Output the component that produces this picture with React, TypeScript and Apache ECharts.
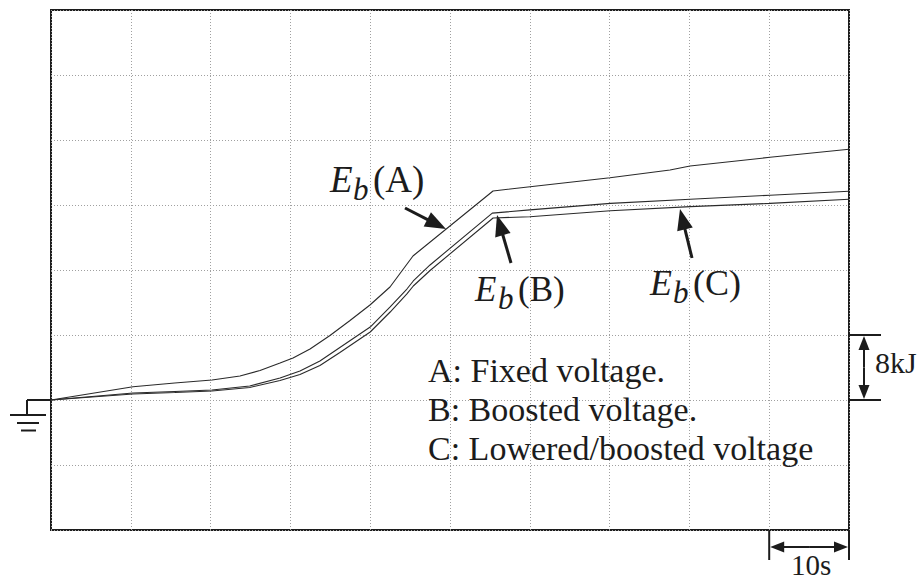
import React, { useEffect, useRef } from "react";
import * as echarts from "echarts";

// Time axis (s) and energy axis (kJ): one grid division = 10 s / 8 kJ
const X_MIN = 0;
const X_MAX = 100;
const X_STEP = 10;
const Y_MIN = -16;
const Y_MAX = 48;
const Y_STEP = 8;

// E_b(A): fixed voltage
const timeA = [0, 10.28, 15.5, 20.18, 23.68, 26.19, 28.7, 30.33, 32.46, 34.96, 37.47, 39.97, 42.48, 45.36, 55.39, 60.03, 70.05, 77.57, 80.08, 90.1, 100];
const energyA = [0, 1.64, 2.09, 2.46, 2.95, 3.63, 4.55, 5.17, 6.28, 7.94, 9.78, 11.69, 13.91, 17.72, 25.72, 26.25, 27.36, 28.31, 28.8, 29.87, 30.86];

// E_b(B): boosted voltage
const timeB = [0, 10.28, 15.5, 20.18, 24.9, 28.7, 31.2, 33.7, 36.2, 40.0, 42.5, 44.6, 45.4, 47.5, 55.3, 60.0, 70.1, 80.1, 90.1, 100];
const energyB = [0, 0.86, 1.05, 1.23, 1.72, 2.71, 3.57, 4.8, 6.46, 8.98, 11.45, 13.66, 14.65, 16.62, 23.0, 23.4, 24.2, 24.7, 25.2, 25.7];

// E_b(C): lowered/boosted voltage
const timeC = [0, 10.28, 15.5, 20.18, 24.9, 28.7, 31.2, 33.7, 36.2, 40.0, 42.5, 44.6, 45.4, 47.5, 55.4, 60.0, 70.1, 80.1, 90.1, 100];
const energyC = [0, 0.74, 0.92, 1.11, 1.54, 2.4, 3.14, 4.25, 5.85, 8.37, 10.83, 13.05, 14.03, 15.94, 22.4, 22.56, 23.3, 23.8, 24.2, 24.7];

// Legend lines written inside the plot
const legendLines = ["A: Fixed voltage.", "B: Boosted voltage.", "C: Lowered/boosted voltage"];

const SERIF = "'Liberation Serif', 'Times New Roman', serif";
const INK = "#1c1c1c";

function pairs(xs: number[], ys: number[]) {
  return xs.map((x, i) => [x, ys[i]]);
}

function text(str: string, x: number, baseline: number, size: number, italic = false, align = "left") {
  return {
    type: "text",
    x,
    y: baseline - size * 0.34,
    silent: true,
    style: {
      text: str,
      fontFamily: SERIF,
      fontSize: size,
      fontStyle: italic ? "italic" : "normal",
      font: `${italic ? "italic " : ""}${size}px ${SERIF}`,
      fill: INK,
      align,
      textAlign: align,
      verticalAlign: "middle",
      textVerticalAlign: "middle",
    },
  };
}

// Arrow stem plus a filled head whose tip sits at (tx, ty)
function arrow(sx: number, sy: number, tx: number, ty: number, headLen: number, headHalf: number, width: number) {
  const dx = tx - sx;
  const dy = ty - sy;
  const len = Math.hypot(dx, dy);
  const ux = dx / len;
  const uy = dy / len;
  const bx = tx - ux * headLen;
  const by = ty - uy * headLen;
  const nx = -uy;
  const ny = ux;
  return [
    {
      type: "line",
      silent: true,
      shape: { x1: sx, y1: sy, x2: bx + ux * 2, y2: by + uy * 2 },
      style: { stroke: INK, lineWidth: width },
    },
    {
      type: "polygon",
      silent: true,
      shape: {
        points: [
          [tx, ty],
          [bx + nx * headHalf, by + ny * headHalf],
          [bx - nx * headHalf, by - ny * headHalf],
        ],
      },
      style: { fill: INK },
    },
  ];
}

function seg(x1: number, y1: number, x2: number, y2: number, w = 2) {
  return {
    type: "line",
    silent: true,
    shape: { x1, y1, x2, y2 },
    style: { stroke: INK, lineWidth: w },
  };
}

// E_b(X) label: italic E, italic subscript b, upright "(X)"
function ebLabel(x: number, baseline: number, tag: string, size = 36) {
  return [
    text("E", x, baseline, size, true),
    text("b", x + 23, baseline + 8, 31, true),
    text(`(${tag})`, x + 43, baseline, size),
  ];
}

export default function App() {
  const ref = useRef<HTMLDivElement>(null);

  useEffect(() => {
    if (!ref.current) return;
    const chart = echarts.init(ref.current, null, { renderer: "svg" });

    const lineSeries = (name: string, data: number[][]) => ({
      name,
      type: "line",
      data,
      symbol: "none",
      smooth: false,
      lineStyle: { color: "#2a2a2a", width: 1.1 },
      z: 3,
    });

    chart.setOption({
      animation: false,
      backgroundColor: "#ffffff",
      grid: {
        left: 51,
        top: 10,
        width: 798,
        height: 520,
        show: true,
        borderColor: INK,
        borderWidth: 2,
        backgroundColor: "transparent",
      },
      xAxis: {
        type: "value",
        min: X_MIN,
        max: X_MAX,
        interval: X_STEP,
        axisLine: { show: false },
        axisTick: { show: false },
        axisLabel: { show: false },
        splitLine: { show: true, lineStyle: { color: "#a0a0a0", width: 1, type: [1, 2] } },
      },
      yAxis: {
        type: "value",
        min: Y_MIN,
        max: Y_MAX,
        interval: Y_STEP,
        axisLine: { show: false },
        axisTick: { show: false },
        axisLabel: { show: false },
        splitLine: { show: true, lineStyle: { color: "#a0a0a0", width: 1, type: [1, 2] } },
      },
      series: [
        lineSeries("Eb(A)", pairs(timeA, energyA)),
        lineSeries("Eb(B)", pairs(timeB, energyB)),
        lineSeries("Eb(C)", pairs(timeC, energyC)),
      ],
    });

    const px = (x: number, y: number) => chart.convertToPixel({ gridIndex: 0 }, [x, y]) as number[];
    const [x0, y0] = px(X_MIN, 0);
    const [xr, y8] = px(X_MAX, Y_STEP);
    const [x90, yb] = px(X_MAX - X_STEP, Y_MIN);

    const graphics: any[] = [];

    // ground symbol at the 0 kJ level
    const gx = x0 - 24;
    graphics.push(seg(gx, y0, x0, y0));
    graphics.push(seg(gx, y0, gx, y0 + 15));
    graphics.push(seg(gx - 17, y0 + 15, gx + 19, y0 + 15));
    graphics.push(seg(gx - 10, y0 + 23, gx + 12, y0 + 23));
    graphics.push(seg(gx - 6, y0 + 30.5, gx + 9, y0 + 30.5));

    // 8 kJ scale bracket
    graphics.push(seg(xr, y8, xr + 32, y8));
    graphics.push(seg(xr, y0, xr + 32, y0));
    graphics.push(...arrow(xr + 15, (y0 + y8) / 2, xr + 15, y8 + 1, 14, 5.5, 2));
    graphics.push(...arrow(xr + 15, (y0 + y8) / 2, xr + 15, y0 - 1, 14, 5.5, 2));
    graphics.push(text("8kJ", xr + 26, y8 + 38, 30));

    // 10 s scale bracket
    graphics.push(seg(x90, yb, x90, yb + 30));
    graphics.push(seg(xr, yb, xr, yb + 30));
    graphics.push(...arrow((x90 + xr) / 2, yb + 17, x90 + 1, yb + 17, 14, 5.5, 2));
    graphics.push(...arrow((x90 + xr) / 2, yb + 17, xr - 1, yb + 17, 14, 5.5, 2));
    graphics.push(text("10s", (x90 + xr) / 2 + 2, yb + 45, 29, false, "center"));

    // curve labels and pointers
    graphics.push(...ebLabel(330, 192, "A", 37));
    graphics.push(...arrow(405, 208, 446, 229, 21, 8, 3));
    graphics.push(...ebLabel(475, 301, "B", 35));
    graphics.push(...arrow(511, 263, 497, 215, 21, 8, 3));
    graphics.push(...ebLabel(650, 295, "C", 36));
    graphics.push(...arrow(692, 258, 680, 209, 21, 8, 3));

    // legend block
    const legendBase = [382, 421.5, 460];
    legendLines.forEach((line, i) => graphics.push(text(line, 428, legendBase[i], 34)));

    chart.setOption({ graphic: graphics });

    return () => chart.dispose();
  }, []);

  return (
    <div
      ref={ref}
      style={{ position: "fixed", left: 0, top: 0, width: 918, height: 580, background: "#fff" }}
    />
  );
}
